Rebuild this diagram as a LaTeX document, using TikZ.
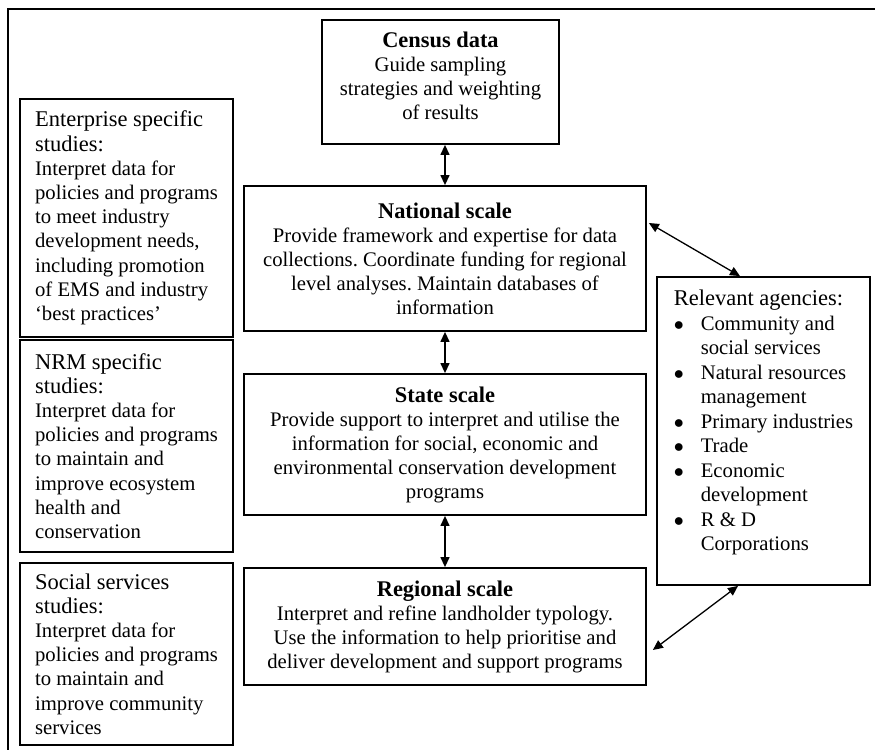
\documentclass[tikz,border=0pt]{standalone}
\usepackage{fontspec}
\setmainfont{Liberation Serif}
\usetikzlibrary{arrows.meta}
\frenchspacing

\newcommand{\hdr}[1]{{\fontsize{11.25}{12.1}\selectfont #1}}
\newcommand{\ttl}[1]{{\fontsize{11.2}{12}\selectfont\bfseries #1}}
\newcommand{\dotitem}{$\bullet$}

\tikzset{
	box/.style={draw, line width=0.9pt, inner sep=0pt, font=\fontsize{10.35}{12}\selectfont},
	sidebox/.style={box, align=left, minimum width=106.5pt, font=\fontsize{10.35}{12.1}\selectfont},
	scalebox/.style={box, align=center, minimum width=201pt},
	link/.style={{Triangle[length=5pt,width=4.5pt]}-{Triangle[length=5pt,width=4.5pt]}, line width=0.65pt}
}

\begin{document}
\begin{tikzpicture}[x=0.5pt,y=-0.5pt]
				\useasboundingbox (0,0) rectangle (875,750);
				\draw[line width=0.85pt] (8,750) -- (8,9) -- (875,9);
				
				\node[box, align=center, minimum width=118.5pt, minimum height=62pt] (census) at (440.5,82)
					{\ttl{Census data}\\ Guide sampling\\ strategies and weighting\\ of results\rule[-6.3pt]{0pt}{6.3pt}};
				\node[scalebox, minimum height=72.5pt] (national) at (445,258.5)
					{\ttl{National scale}\\ Provide framework and expertise for data\\ collections. Coordinate funding for regional\\ level analyses. Maintain databases of\\ information};
				\node[scalebox, minimum height=70.5pt] (state) at (445,444.5)
					{\ttl{State scale}\\ Provide support to interpret and utilise the\\ information for social, economic and\\ environmental conservation development\\ programs};
				\node[scalebox, minimum height=58.5pt] (regional) at (445,626.5)
					{\ttl{Regional scale}\\ Interpret and refine landholder typology.\\ Use the information to help prioritise and\\ deliver development and support programs};
				
				\node[sidebox, minimum height=119pt] (enterprise) at (126.5,218)
					{\hdr{Enterprise specific}\\ \hdr{studies:}\\ Interpret data for\\ policies and programs\\ to meet industry\\ development needs,\\ including promotion\\ of EMS and industry\\ `best practices'};
				\node[sidebox, minimum height=106pt] (nrm) at (126.5,446)
					{\hdr{NRM specific}\\ \hdr{studies:}\\ Interpret data for\\ policies and programs\\ to maintain and\\ improve ecosystem\\ health and\\ conservation};
				\node[sidebox, minimum height=91pt] (social) at (126.5,654)
					{\hdr{Social services}\\ \hdr{studies:}\\ Interpret data for\\ policies and programs\\ to maintain and\\ improve community\\ services};
				
				\node[box, minimum width=106.5pt, minimum height=154pt, font=\fontsize{10.35}{12.25}\selectfont] (agencies) at (763.5,431)
					{\begin{tabular}{@{}p{13.5pt}@{}l@{}}
						\multicolumn{2}{@{}l@{}}{\hdr{Relevant agencies:}}\\
						\dotitem & Community and\\
						& social services\\
						\dotitem & Natural resources\\
						& management\\
						\dotitem & Primary industries\\
						\dotitem & Trade\\
						\dotitem & Economic\\
						& development\\
						\dotitem & R \& D\\
						& Corporations\\[7.5pt]
					\end{tabular}};
				
				\draw[link] (national.north |- census.south) -- (national.north);
				\draw[link] (national.south) -- (state.north);
				\draw[link] (state.south) -- (regional.north);
				\draw[link] ([shift={(1pt,17.75pt)}]national.east) -- ([xshift=-11.75pt]agencies.north);
				\draw[link] ([shift={(3pt,-11.75pt)}]regional.east) -- ([xshift=-12.75pt]agencies.south);
\end{tikzpicture}
\end{document}
